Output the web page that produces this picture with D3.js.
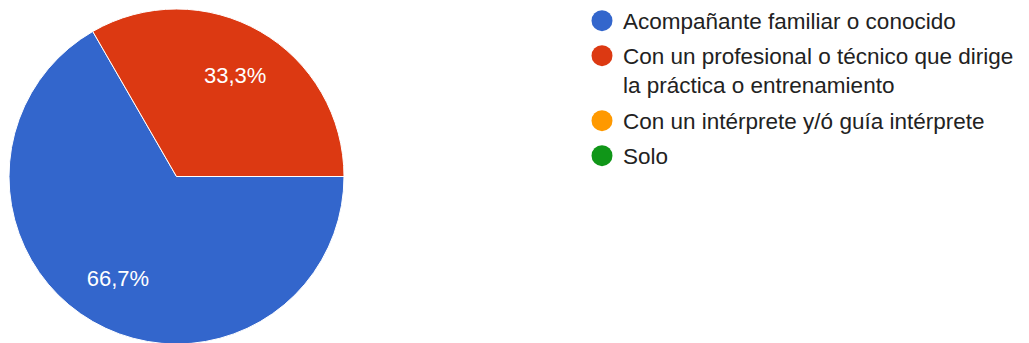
<!DOCTYPE html>
<html><head><meta charset="utf-8">
<script src="https://cdn.jsdelivr.net/npm/d3@7"></script>
<style>html,body{margin:0;padding:0;background:#fff;}svg{display:block;}</style>
</head><body>
<svg id="chart" width="1029" height="343"></svg>
<script>
const categories = ["Acompañante familiar o conocido", "Con un profesional o técnico que dirige la práctica o entrenamiento", "Con un intérprete y/ó guía intérprete", "Solo"];
const values = [2, 1, 0, 0];
const colors = ["#3366cc", "#dc3912", "#ff9900", "#109618"];

const svg = d3.select("#chart");
const font = "'Liberation Sans', Arial, sans-serif";
const cx = 176.5, cy = 176.5, r = 167.5;
const fs = 22.5;

const pie = d3.pie().sort(null).value(d => d.v)
  .startAngle(Math.PI / 2).endAngle(Math.PI / 2 + 2 * Math.PI);
const data = categories.map((c, i) => ({c, v: values[i], color: colors[i]}));
const arcs = pie(data).filter(a => a.data.v > 0);
const arc = d3.arc().innerRadius(0).outerRadius(r);
const labelArc = d3.arc().innerRadius(r * 0.7).outerRadius(r * 0.7);
const total = d3.sum(values);
const fmt = v => (v / total * 100).toFixed(1).replace(".", ",") + "%";

const g = svg.append("g").attr("transform", `translate(${cx},${cy})`);
g.selectAll("path").data(arcs).join("path")
  .attr("d", arc).attr("fill", d => d.data.color)
  .attr("stroke", "#fff").attr("stroke-width", 1);
g.selectAll("text").data(arcs).join("text")
  .attr("transform", d => `translate(${labelArc.centroid(d)})`)
  .attr("text-anchor", "middle").attr("dy", "0.35em")
  .attr("fill", "#fff").attr("font-family", font).attr("font-size", 22)
  .text(d => fmt(d.data.v));

// Legend
const lx = 602, tx = 623, maxW = 1029 - tx - 1;
const leg = svg.append("g");
let y = 20.7;
data.forEach((d, i) => {
  const item = leg.append("g");
  item.append("circle").attr("cx", lx).attr("cy", y).attr("r", 10.5).attr("fill", d.color);
  const t = item.append("text").attr("x", tx).attr("y", y)
    .attr("font-family", font).attr("font-size", fs).attr("fill", "#222");
  const words = d.c.split(" ");
  let lines = [], cur = "";
  const probe = leg.append("text").attr("font-family", font).attr("font-size", fs);
  words.forEach(w => {
    const test = cur ? cur + " " + w : w;
    probe.text(test);
    if (probe.node().getComputedTextLength() > maxW && cur) { lines.push(cur); cur = w; }
    else cur = test;
  });
  lines.push(cur);
  probe.remove();
  lines.forEach((ln, k) => {
    t.append("tspan").attr("x", tx).attr("dy", k === 0 ? "0.36em" : 29).text(ln);
  });
  y += 35 + (lines.length - 1) * 30;
});
</script>
</body></html>
